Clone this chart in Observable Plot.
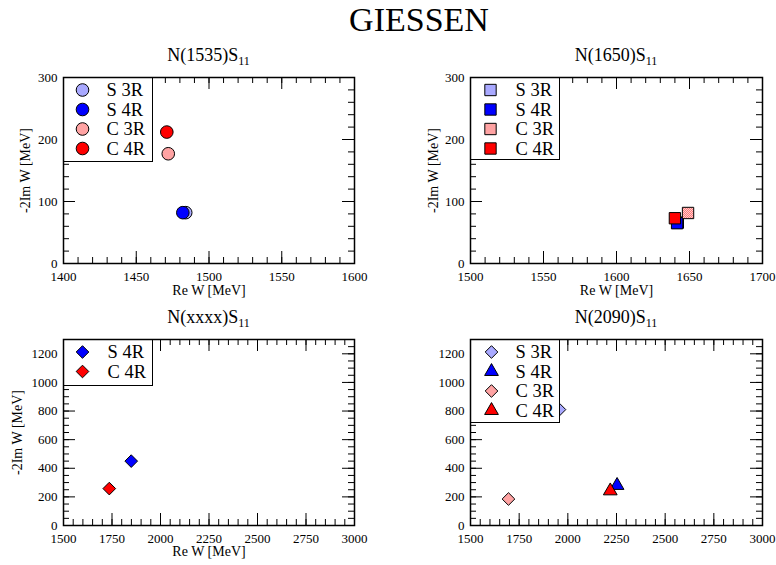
<!DOCTYPE html>
<html>
<head>
<meta charset="utf-8">
<script src="https://cdn.jsdelivr.net/npm/d3@7"></script>
<script src="https://cdn.jsdelivr.net/npm/@observablehq/plot@0.6"></script>
<style>
  body { margin: 0; background: #fff; }
  #chart { position: relative; width: 776px; height: 565px; background: #fff; overflow: hidden; }
</style>
</head>
<body>
<!-- dotted fills for the 3R fits -->
<svg width="0" height="0" style="position:absolute">
  <defs>
    <pattern id="dotBlue" width="2" height="2" patternUnits="userSpaceOnUse">
      <rect width="2" height="2" fill="#d6d6ff"/>
      <rect width="1" height="1" fill="#7c7cff"/>
      <rect x="1" y="1" width="1" height="1" fill="#7c7cff"/>
    </pattern>
    <pattern id="dotRed" width="2" height="2" patternUnits="userSpaceOnUse">
      <rect width="2" height="2" fill="#ffd6d6"/>
      <rect width="1" height="1" fill="#ff7070"/>
      <rect x="1" y="1" width="1" height="1" fill="#ff7070"/>
    </pattern>
  </defs>
</svg>
<div id="chart"></div>
<script>
// Fit variants
const seriesNames = ["S 3R", "S 4R", "C 3R", "C 4R"];
const seriesFill = ["url(#dotBlue)", "#0000ff", "url(#dotRed)", "#ff0000"];

// Pole positions: Re W and -2 Im W, in MeV
const namesN1535 = ["S 3R", "S 4R", "C 3R", "C 4R"];
const reN1535 = [1484, 1482, 1472, 1471];
const imN1535 = [82, 82, 177, 212];

const namesN1650 = ["S 3R", "S 4R", "C 3R", "C 4R"];
const reN1650 = [1642, 1641.5, 1649, 1640];
const imN1650 = [66, 65, 81.5, 73];

const namesNxxxx = ["S 4R", "C 4R"];
const reNxxxx = [1849, 1736];
const imNxxxx = [450, 258];

const namesN2090 = ["S 3R", "S 4R", "C 3R", "C 4R"];
const reN2090 = [1957, 2253, 1695, 2218];
const imN2090 = [810, 280, 185, 242];

// Axis ticks
const xTicksLow = [1400, 1450, 1500, 1550, 1600];
const xTicksMid = [1500, 1550, 1600, 1650, 1700];
const xTicksWide = [1500, 1750, 2000, 2250, 2500, 2750, 3000];
const yTicksNarrow = [0, 100, 200, 300];
const yTicksWide = [0, 200, 400, 600, 800, 1000, 1200];

const FONT = '"Liberation Serif", "Times New Roman", serif';
const symbolR = {circle: 6.3, square: 6.4, diamond2: 5.7, triangle: 5.1};
const legendRows = [12.5, 32, 51.5, 71];

function panel(cfg) {
  const fw = cfg.width - cfg.mL - cfg.mR;
  const fh = cfg.height - cfg.mT - cfg.mB;
  const rows = cfg.names.map((name, i) => ({
    name, re: cfg.re[i], im: cfg.im[i],
    fill: seriesFill[seriesNames.indexOf(name)],
    symbol: cfg.symbols[i]
  }));

  const marks = [];
  // poles, drawn in legend order
  for (const d of rows) {
    marks.push(Plot.dot([d], {
      x: "re", y: "im", symbol: d.symbol, r: symbolR[d.symbol],
      fill: d.fill, stroke: "black", strokeWidth: 1
    }));
  }
  // inward ticks on all four sides
  const tick = (vals, len, side) => side === "x"
    ? [Plot.tickX(vals, {insetTop: fh - len}), Plot.tickX(vals, {insetBottom: fh - len})]
    : [Plot.tickY(vals, {insetRight: fw - len}), Plot.tickY(vals, {insetLeft: fw - len})];
  marks.push(...tick(cfg.xMinor, 6, "x"), ...tick(cfg.xMajor, 12, "x"));
  marks.push(...tick(cfg.yMinor, 6, "y"), ...tick(cfg.yMajor, 12, "y"));
  // tick labels
  marks.push(Plot.axisX(cfg.xMajor, {anchor: "bottom", tickSize: 0, tickPadding: 8, tickFormat: d => `${d}`,
    fontSize: 13, fontFamily: FONT, label: null}));
  marks.push(Plot.axisY(cfg.yMajor, {anchor: "left", tickSize: 0, tickPadding: 6, tickFormat: d => `${d}`,
    fontSize: 13, fontFamily: FONT, label: null}));
  if (cfg.xLabel) marks.push(Plot.text([cfg.xLabel], {x: null, y: null, text: d => d, frameAnchor: "bottom",
    dy: cfg.xLabelDy, lineAnchor: "middle", fontSize: 14, fontFamily: FONT}));
  if (cfg.yLabel) marks.push(Plot.text([cfg.yLabel], {x: null, y: null, text: d => d, frameAnchor: "left",
    dx: cfg.yLabelDx, rotate: -90, textAnchor: "middle", lineAnchor: "middle", fontSize: 14, fontFamily: FONT}));
  // legend box
  marks.push(Plot.frame({fill: "white", stroke: "black", strokeWidth: 1,
    insetRight: fw - 89, insetBottom: fh - cfg.legendH}));
  rows.forEach((d, i) => {
    marks.push(Plot.dot([d], {x: null, y: null, frameAnchor: "top-left", dx: cfg.mdx, dy: legendRows[i],
      symbol: d.symbol, r: symbolR[d.symbol], fill: d.fill, stroke: "black", strokeWidth: 1}));
    marks.push(Plot.text([d], {x: null, y: null, text: "name", frameAnchor: "top-left", dx: cfg.tdx, dy: legendRows[i] + 0.5,
      textAnchor: "start", lineAnchor: "middle", fontSize: 18.5, fontFamily: FONT}));
  });
  marks.push(Plot.frame({stroke: "black", strokeWidth: 1.5}));

  const svg = Plot.plot({
    width: cfg.width, height: cfg.height,
    marginLeft: cfg.mL, marginRight: cfg.mR, marginTop: cfg.mT, marginBottom: cfg.mB,
    x: {domain: cfg.xDomain, nice: false},
    y: {domain: cfg.yDomain, nice: false},
    marks
  });
  svg.style.position = "absolute";
  svg.style.left = cfg.left + "px";
  svg.style.top = cfg.top + "px";
  svg.style.fontFamily = FONT;
  svg.style.background = "white";
  svg.style.maxWidth = "none";

  // panel title with subscript
  const t = d3.select(svg).append("text")
    .attr("x", cfg.mL + fw / 2).attr("y", cfg.mT - 16)
    .attr("text-anchor", "middle").attr("font-size", 18).attr("font-family", FONT).attr("fill", "black");
  t.append("tspan").text(cfg.title);
  t.append("tspan").attr("dy", 4).attr("font-size", 12).text("11");
  document.getElementById("chart").appendChild(svg);
}

const yLab = "-2Im W [MeV]";
const xLab = "Re W [MeV]";

panel({left: 0, top: 35, width: 388, height: 265, mL: 63, mR: 34, mT: 42, mB: 37,
  xDomain: [1400, 1600], yDomain: [0, 300],
  xMajor: xTicksLow, xMinor: d3.range(1400, 1601, 10), yMajor: yTicksNarrow, yMinor: d3.range(0, 301, 20),
  names: namesN1535, re: reN1535, im: imN1535, symbols: ["circle", "circle", "circle", "circle"],
  legendH: 84, mdx: 19, tdx: 43, title: "N(1535)S",
  xLabel: xLab, xLabelDy: 27, yLabel: yLab, yLabelDx: -38});

panel({left: 388, top: 35, width: 388, height: 265, mL: 82, mR: 14, mT: 42, mB: 37,
  xDomain: [1500, 1700], yDomain: [0, 300],
  xMajor: xTicksMid, xMinor: d3.range(1500, 1701, 10), yMajor: yTicksNarrow, yMinor: d3.range(0, 301, 20),
  names: namesN1650, re: reN1650, im: imN1650, symbols: ["square", "square", "square", "square"],
  legendH: 82, mdx: 20, tdx: 45, title: "N(1650)S",
  xLabel: xLab, xLabelDy: 27, yLabel: yLab, yLabelDx: -37});

panel({left: 0, top: 300, width: 388, height: 265, mL: 63, mR: 34, mT: 39, mB: 40,
  xDomain: [1500, 3000], yDomain: [0, 1300],
  xMajor: xTicksWide, xMinor: d3.range(1500, 3001, 50), yMajor: yTicksWide, yMinor: d3.range(0, 1301, 50),
  names: namesNxxxx, re: reNxxxx, im: imNxxxx, symbols: ["diamond2", "diamond2"],
  legendH: 46, mdx: 19, tdx: 44, title: "N(xxxx)S",
  xLabel: xLab, xLabelDy: 26, yLabel: yLab, yLabelDx: -46});

panel({left: 388, top: 300, width: 388, height: 265, mL: 82, mR: 14, mT: 39, mB: 40,
  xDomain: [1500, 3000], yDomain: [0, 1300],
  xMajor: xTicksWide, xMinor: d3.range(1500, 3001, 50), yMajor: yTicksWide, yMinor: d3.range(0, 1301, 50),
  names: namesN2090, re: reN2090, im: imN2090, symbols: ["diamond2", "triangle", "diamond2", "triangle"],
  legendH: 83, mdx: 21, tdx: 45, title: "N(2090)S"});

// overall heading
d3.select("#chart").append("svg")
  .attr("width", 776).attr("height", 46)
  .style("position", "absolute").style("left", "0px").style("top", "0px")
  .append("text")
  .attr("x", 419).attr("y", 31).attr("text-anchor", "middle")
  .attr("font-size", 34).attr("font-family", FONT).attr("fill", "black")
  .text("GIESSEN");
</script>
</body>
</html>
